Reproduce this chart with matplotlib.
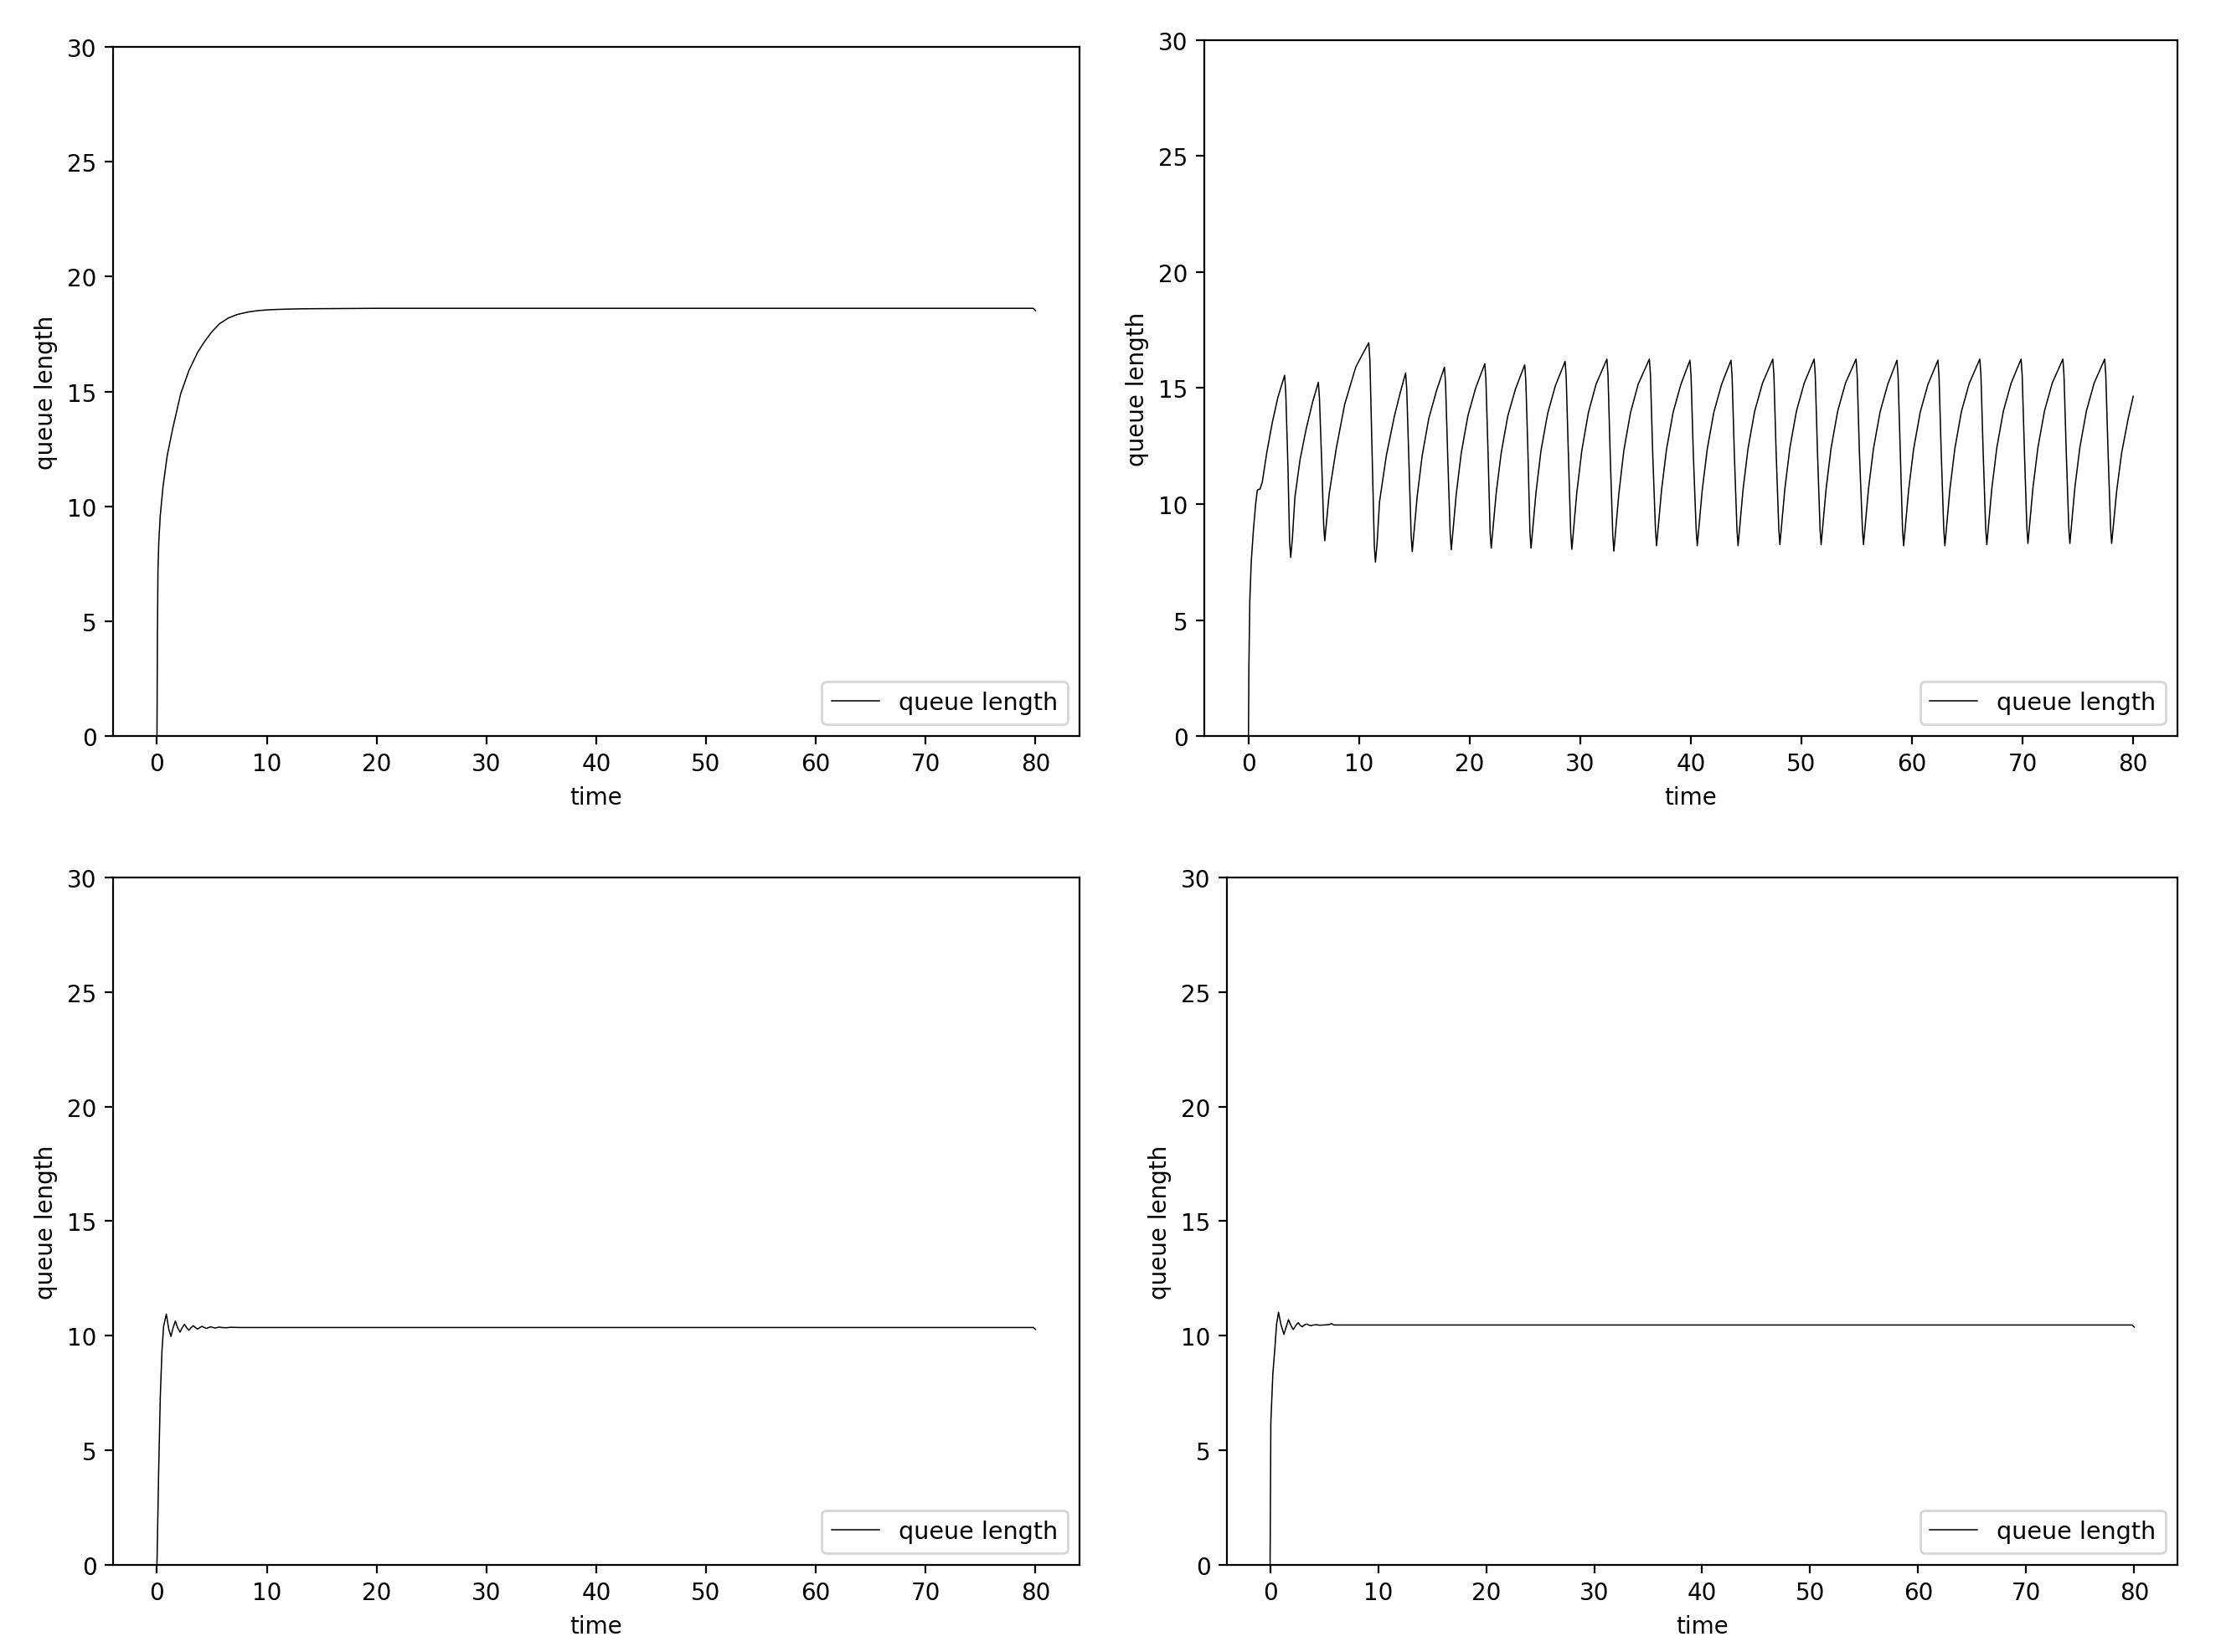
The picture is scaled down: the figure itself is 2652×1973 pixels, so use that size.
import matplotlib
matplotlib.use("Agg")
from matplotlib import pyplot as plt

# top left: smooth rise to a steady level
t_a = [0, 0.04, 0.09, 0.17, 0.3, 0.55, 0.93, 1.44, 2.16, 2.9, 3.7, 4.3, 5.0, 5.7, 6.5, 7.3, 8.3, 9.2,
       10.3, 11.5, 13.3, 20, 79.8, 80]
q_a = [0, 4.4, 7.2, 8.5, 9.6, 10.85, 12.2, 13.4, 14.9, 15.9, 16.7, 17.15, 17.6, 17.95, 18.2, 18.35, 18.46, 18.52,
       18.56, 18.58, 18.6, 18.62, 18.62, 18.52]

# top right: saw-tooth oscillation
t_b = [0, 0.04, 0.12, 0.25, 0.45, 0.65, 0.8, 1.05, 1.25, 1.65, 2.15, 2.66, 3.27,
       3.37, 3.57, 3.72, 3.82, 3.97, 4.2, 4.66, 5.2, 5.8, 6.32,
       6.42, 6.62, 6.8, 6.9, 7.05, 7.3, 7.94, 8.7, 9.7, 10.3, 10.88,
       10.98, 11.18, 11.38, 11.48, 11.63, 11.85, 12.47, 13.2, 13.75, 14.21,
       14.31, 14.51, 14.71, 14.81, 14.96, 15.26, 15.71, 16.31, 17.01, 17.72,
       17.82, 18.02, 18.24, 18.34, 18.49, 18.79, 19.24, 19.84, 20.54, 21.37,
       21.47, 21.67, 21.85, 21.95, 22.1, 22.4, 22.85, 23.45, 24.15, 24.98,
       25.08, 25.28, 25.45, 25.55, 25.7, 26.0, 26.45, 27.05, 27.75, 28.63,
       28.73, 28.93, 29.14, 29.24, 29.39, 29.69, 30.14, 30.74, 31.44, 32.41,
       32.51, 32.71, 32.94, 33.04, 33.19, 33.49, 33.94, 34.54, 35.24, 36.25,
       36.35, 36.55, 36.8, 36.9, 37.05, 37.35, 37.8, 38.4, 39.1, 39.92,
       40.02, 40.22, 40.48, 40.58, 40.73, 41.03, 41.48, 42.08, 42.78, 43.63,
       43.73, 43.93, 44.17, 44.27, 44.42, 44.72, 45.17, 45.77, 46.47, 47.41,
       47.51, 47.71, 47.95, 48.05, 48.2, 48.5, 48.95, 49.55, 50.25, 51.15,
       51.25, 51.45, 51.68, 51.78, 51.93, 52.23, 52.68, 53.28, 53.98, 54.94,
       55.04, 55.24, 55.51, 55.61, 55.76, 56.06, 56.51, 57.11, 57.81, 58.64,
       58.74, 58.94, 59.14, 59.24, 59.39, 59.69, 60.14, 60.74, 61.44, 62.34,
       62.44, 62.64, 62.87, 62.97, 63.12, 63.42, 63.87, 64.47, 65.17, 66.13,
       66.23, 66.43, 66.66, 66.76, 66.91, 67.21, 67.66, 68.26, 68.96, 69.86,
       69.96, 70.16, 70.38, 70.48, 70.63, 70.93, 71.38, 71.98, 72.68, 73.64,
       73.74, 73.94, 74.17, 74.27, 74.42, 74.72, 75.17, 75.77, 76.47, 77.42,
       77.52, 77.72, 77.95, 78.05, 78.2, 78.5, 78.95, 79.55, 80.0]
q_b = [0, 3.0, 5.8, 7.5, 8.9, 10.0, 10.6, 10.65, 10.95, 12.2, 13.5, 14.6, 15.55,
       14.85, 11.6, 8.4, 7.7, 8.5, 10.3, 11.9, 13.2, 14.4, 15.25,
       14.55, 11.8, 9.1, 8.42, 9.2, 10.45, 12.4, 14.3, 15.9, 16.45, 16.95,
       16.2, 12.2, 8.2, 7.5, 8.3, 10.1, 12.1, 13.8, 14.85, 15.65,
       14.95, 11.8, 8.65, 7.95, 8.75, 10.35, 12.1, 13.7, 14.9, 15.9,
       15.2, 12.0, 8.73, 8.03, 8.83, 10.44, 12.2, 13.8, 15.0, 16.05,
       15.35, 12.1, 8.8, 8.1, 8.9, 10.47, 12.2, 13.8, 14.97, 16.0,
       15.3, 12.05, 8.8, 8.1, 8.9, 10.5, 12.3, 13.9, 15.1, 16.15,
       15.45, 12.1, 8.75, 8.05, 8.87, 10.5, 12.3, 13.95, 15.18, 16.25,
       15.55, 12.1, 8.67, 7.97, 8.8, 10.45, 12.3, 13.93, 15.17, 16.25,
       15.55, 12.2, 8.9, 8.2, 9.0, 10.6, 12.36, 13.96, 15.16, 16.2,
       15.5, 12.2, 8.9, 8.2, 9.0, 10.6, 12.36, 13.96, 15.16, 16.2,
       15.5, 12.2, 8.9, 8.2, 9.0, 10.62, 12.39, 14.0, 15.2, 16.25,
       15.55, 12.25, 8.95, 8.25, 9.05, 10.65, 12.41, 14.01, 15.21, 16.25,
       15.55, 12.25, 8.95, 8.25, 9.05, 10.65, 12.41, 14.01, 15.21, 16.25,
       15.55, 12.25, 8.95, 8.25, 9.05, 10.64, 12.38, 13.97, 15.17, 16.2,
       15.5, 12.2, 8.9, 8.2, 9.0, 10.6, 12.36, 13.96, 15.16, 16.2,
       15.5, 12.2, 8.9, 8.2, 9.0, 10.62, 12.39, 14.0, 15.2, 16.25,
       15.55, 12.25, 8.95, 8.25, 9.05, 10.65, 12.41, 14.01, 15.21, 16.25,
       15.55, 12.3, 9.0, 8.3, 9.1, 10.69, 12.43, 14.02, 15.22, 16.25,
       15.55, 12.3, 9.0, 8.3, 9.1, 10.69, 12.43, 14.02, 15.22, 16.25,
       15.55, 12.3, 9.0, 8.3, 9.05, 10.55, 12.2, 13.7, 14.65]

# bottom left: damped oscillation
t_c = [0, 0.15, 0.3, 0.45, 0.6, 0.85, 1.07, 1.27, 1.47, 1.67, 1.88, 2.1, 2.3, 2.5, 2.7, 2.9,
       3.1, 3.3, 3.5, 3.7, 3.9, 4.1, 4.3, 4.5, 4.7, 4.9, 5.1, 5.3, 5.5, 5.7, 5.9,
       6.3, 6.7, 7.5, 79.8, 80]
q_c = [0, 4.0, 7.3, 9.3, 10.4, 10.95, 10.3, 9.97, 10.35, 10.64, 10.35, 10.16, 10.35, 10.5, 10.35, 10.24,
       10.35, 10.44, 10.36, 10.29, 10.36, 10.41, 10.36, 10.32, 10.36, 10.39, 10.36, 10.34, 10.36, 10.38, 10.36,
       10.35, 10.37, 10.36, 10.36, 10.28]

# bottom right: damped oscillation
t_d = [0, 0.07, 0.25, 0.45, 0.6, 0.78, 1.0, 1.28, 1.5, 1.7, 1.93, 2.15, 2.38, 2.6, 2.8, 2.98,
       3.2, 3.4, 3.6, 3.8, 4.0, 4.3, 4.6, 5.0, 5.5, 5.7, 5.9, 6.5, 79.8, 80]
q_d = [0, 6.2, 8.3, 9.5, 10.5, 11.03, 10.5, 10.06, 10.4, 10.7, 10.45, 10.27, 10.45, 10.57, 10.45, 10.39,
       10.48, 10.51, 10.46, 10.44, 10.47, 10.48, 10.46, 10.47, 10.49, 10.53, 10.47, 10.47, 10.47, 10.38]

series = [(t_a, q_a), (t_b, q_b), (t_c, q_c), (t_d, q_d)]
boxes = [[0.0509, 0.5542, 0.4351, 0.4169],
         [0.5422, 0.5542, 0.4382, 0.4210],
         [0.0509, 0.0527, 0.4351, 0.4159],
         [0.5524, 0.0527, 0.4280, 0.4159]]

fig = plt.figure(figsize=(13.26, 9.87), dpi=200)

for (t, q), box in zip(series, boxes):
    ax = fig.add_axes(box)
    ax.plot(t, q, color="black", linewidth=0.55, label="queue length")
    ax.set_ylim(0, 30)
    ax.set_xlabel("time")
    ax.set_ylabel("queue length")
    ax.legend(loc="lower right", prop={"size": 10.3})

fig.savefig("out.png", dpi=200)
